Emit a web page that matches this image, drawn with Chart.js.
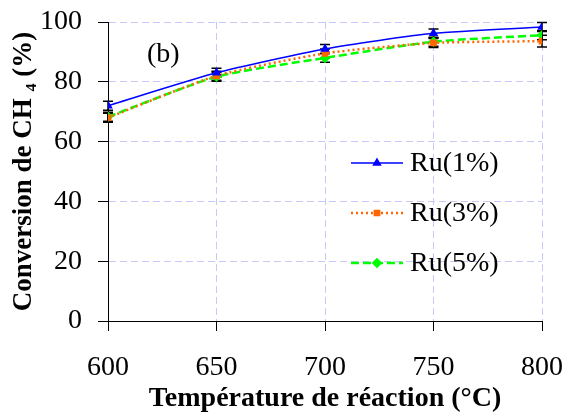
<!DOCTYPE html>
<html>
<head>
<meta charset="utf-8">
<script src="https://cdn.jsdelivr.net/npm/chart.js@4"></script>
<style>
  html, body { margin: 0; padding: 0; background: #fff; }
  #wrap { width: 566px; height: 415px; }
</style>
</head>
<body>
<div id="wrap"><canvas id="myChart" width="566" height="415"></canvas></div>
<script>
// temperatures (°C)
const temps = [600, 650, 700, 750, 800];
const names = ['Ru(1%)', 'Ru(3%)', 'Ru(5%)'];
// CH4 conversion (%)
const ru1 = [72, 83, 91, 96.2, 98.3];
const ru3 = [68, 82, 89.5, 93, 93.6];
const ru5 = [68.3, 81.7, 88, 93.4, 95.6];
// error bar half-widths
const err1 = [1.5, 1.5, 1.5, 1.5, 1.5];
const err3 = [1.5, 1.5, 1.5, 1.5, 2];
const err5 = [1.5, 1.5, 1.5, 1.5, 1.5];

const serif = "'Liberation Serif', 'Times New Roman', serif";

function pts(vals) {
  return temps.map((t, i) => ({ x: t, y: vals[i] }));
}

const errorBars = {
  id: 'errorBars',
  beforeDatasetsDraw(chart) {
    const ctx = chart.ctx;
    const xs = chart.scales.x, ys = chart.scales.y;
    ctx.save();
    ctx.strokeStyle = '#000';
    ctx.lineWidth = 1.5;
    chart.data.datasets.forEach(ds => {
      ds.data.forEach((p, i) => {
        const px = xs.getPixelForValue(p.x);
        const top = ys.getPixelForValue(p.y + ds.err[i]);
        const bot = ys.getPixelForValue(p.y - ds.err[i]);
        ctx.beginPath();
        ctx.moveTo(px, top); ctx.lineTo(px, bot);
        ctx.moveTo(px - 5, top); ctx.lineTo(px + 5, top);
        ctx.moveTo(px - 5, bot); ctx.lineTo(px + 5, bot);
        ctx.stroke();
      });
    });
    ctx.restore();
  }
};

const extras = {
  id: 'extras',
  afterDraw(chart) {
    const ctx = chart.ctx;
    ctx.save();
    ctx.fillStyle = '#000';
    ctx.font = '28px ' + serif;
    ctx.textBaseline = 'middle';
    ctx.textAlign = 'left';
    ctx.fillText('(b)', 147, 55);

    // legend
    const rows = [163, 213, 263];
    chart.data.datasets.forEach((ds, i) => {
      const y = rows[i];
      ctx.strokeStyle = ds.borderColor;
      ctx.lineWidth = ds.borderWidth;
      ctx.setLineDash(ds.borderDash || []);
      ctx.beginPath();
      ctx.moveTo(351, y); ctx.lineTo(403, y);
      ctx.stroke();
      ctx.setLineDash([]);
      ctx.fillStyle = ds.borderColor;
      Chart.helpers.drawPoint(ctx, {
        pointStyle: ds.pointStyle, radius: ds.pointRadius, borderWidth: 1, rotation: 0
      }, 377, y);
      ctx.fillStyle = '#000';
      ctx.fillText(names[i], 410, y + 1);
    });
    ctx.restore();
  }
};

function mkSet(label, vals, err, color, dash, style, r, w) {
  return {
    label: label,
    data: pts(vals),
    err: err,
    borderColor: color,
    backgroundColor: color,
    pointBackgroundColor: color,
    pointBorderColor: color,
    borderWidth: w,
    borderDash: dash,
    pointStyle: style,
    pointRadius: r,
    pointHoverRadius: r,
    tension: 0.2,
    fill: false
  };
}

// fixed axis boxes so the plot area lands where the original has it
function fitX(scale) {
  scale.height = 92;
  scale.paddingLeft = 0; scale.paddingRight = 0;
}
function fitY(scale) {
  scale.width = 97;
  scale.paddingTop = 0; scale.paddingBottom = 0;
}

function draw() {
  const ctx = document.getElementById('myChart');
  new Chart(ctx, {
    type: 'line',
    data: {
      datasets: [
        mkSet(names[0], ru1, err1, '#0000ff', [], 'triangle', 4, 1.5),
        mkSet(names[1], ru3, err3, '#ff6600', [2, 3], 'rect', 3, 2.5),
        mkSet(names[2], ru5, err5, '#00ff00', [8, 4], 'rectRot', 3.5, 2.5)
      ]
    },
    options: {
      responsive: false,
      animation: false,
      layout: { padding: { left: 11, right: 24, top: 22, bottom: 2 } },
      plugins: {
        legend: { display: false },
        tooltip: { enabled: false }
      },
      scales: {
        x: {
          type: 'linear',
          min: 600,
          max: 800,
          afterFit: fitX,
          ticks: {
            stepSize: 50,
            color: '#000',
            font: { family: serif, size: 28 },
            padding: 20
          },
          grid: {
            color: '#c8c8f6',
            tickColor: '#000',
            tickBorderDash: [],
            tickLength: 10
          },
          border: { display: true, color: '#000', width: 1, dash: [7, 4] },
          title: {
            display: true,
            text: 'Température de réaction (°C)',
            color: '#000',
            font: { family: serif, size: 28, weight: 'bold', lineHeight: 1 },
            padding: { top: 0, bottom: 0 }
          }
        },
        y: {
          min: 0,
          max: 100,
          afterFit: fitY,
          ticks: {
            stepSize: 20,
            color: '#000',
            font: { family: serif, size: 28 },
            padding: 16
          },
          grid: {
            color: '#c8c8f6',
            tickColor: '#000',
            tickBorderDash: [],
            tickLength: 10
          },
          border: { display: true, color: '#000', width: 1, dash: [7, 4] },
          title: {
            display: true,
            text: 'Conversion de CH ₄ (%)',
            color: '#000',
            font: { family: serif, size: 27, weight: 'bold', lineHeight: 1 },
            padding: { top: 0, bottom: 1 }
          }
        }
      }
    },
    plugins: [errorBars, extras]
  });
}

Promise.all([
  document.fonts.load('28px "Liberation Serif"'),
  document.fonts.load('bold 28px "Liberation Serif"')
]).then(draw, draw);
</script>
</body>
</html>
